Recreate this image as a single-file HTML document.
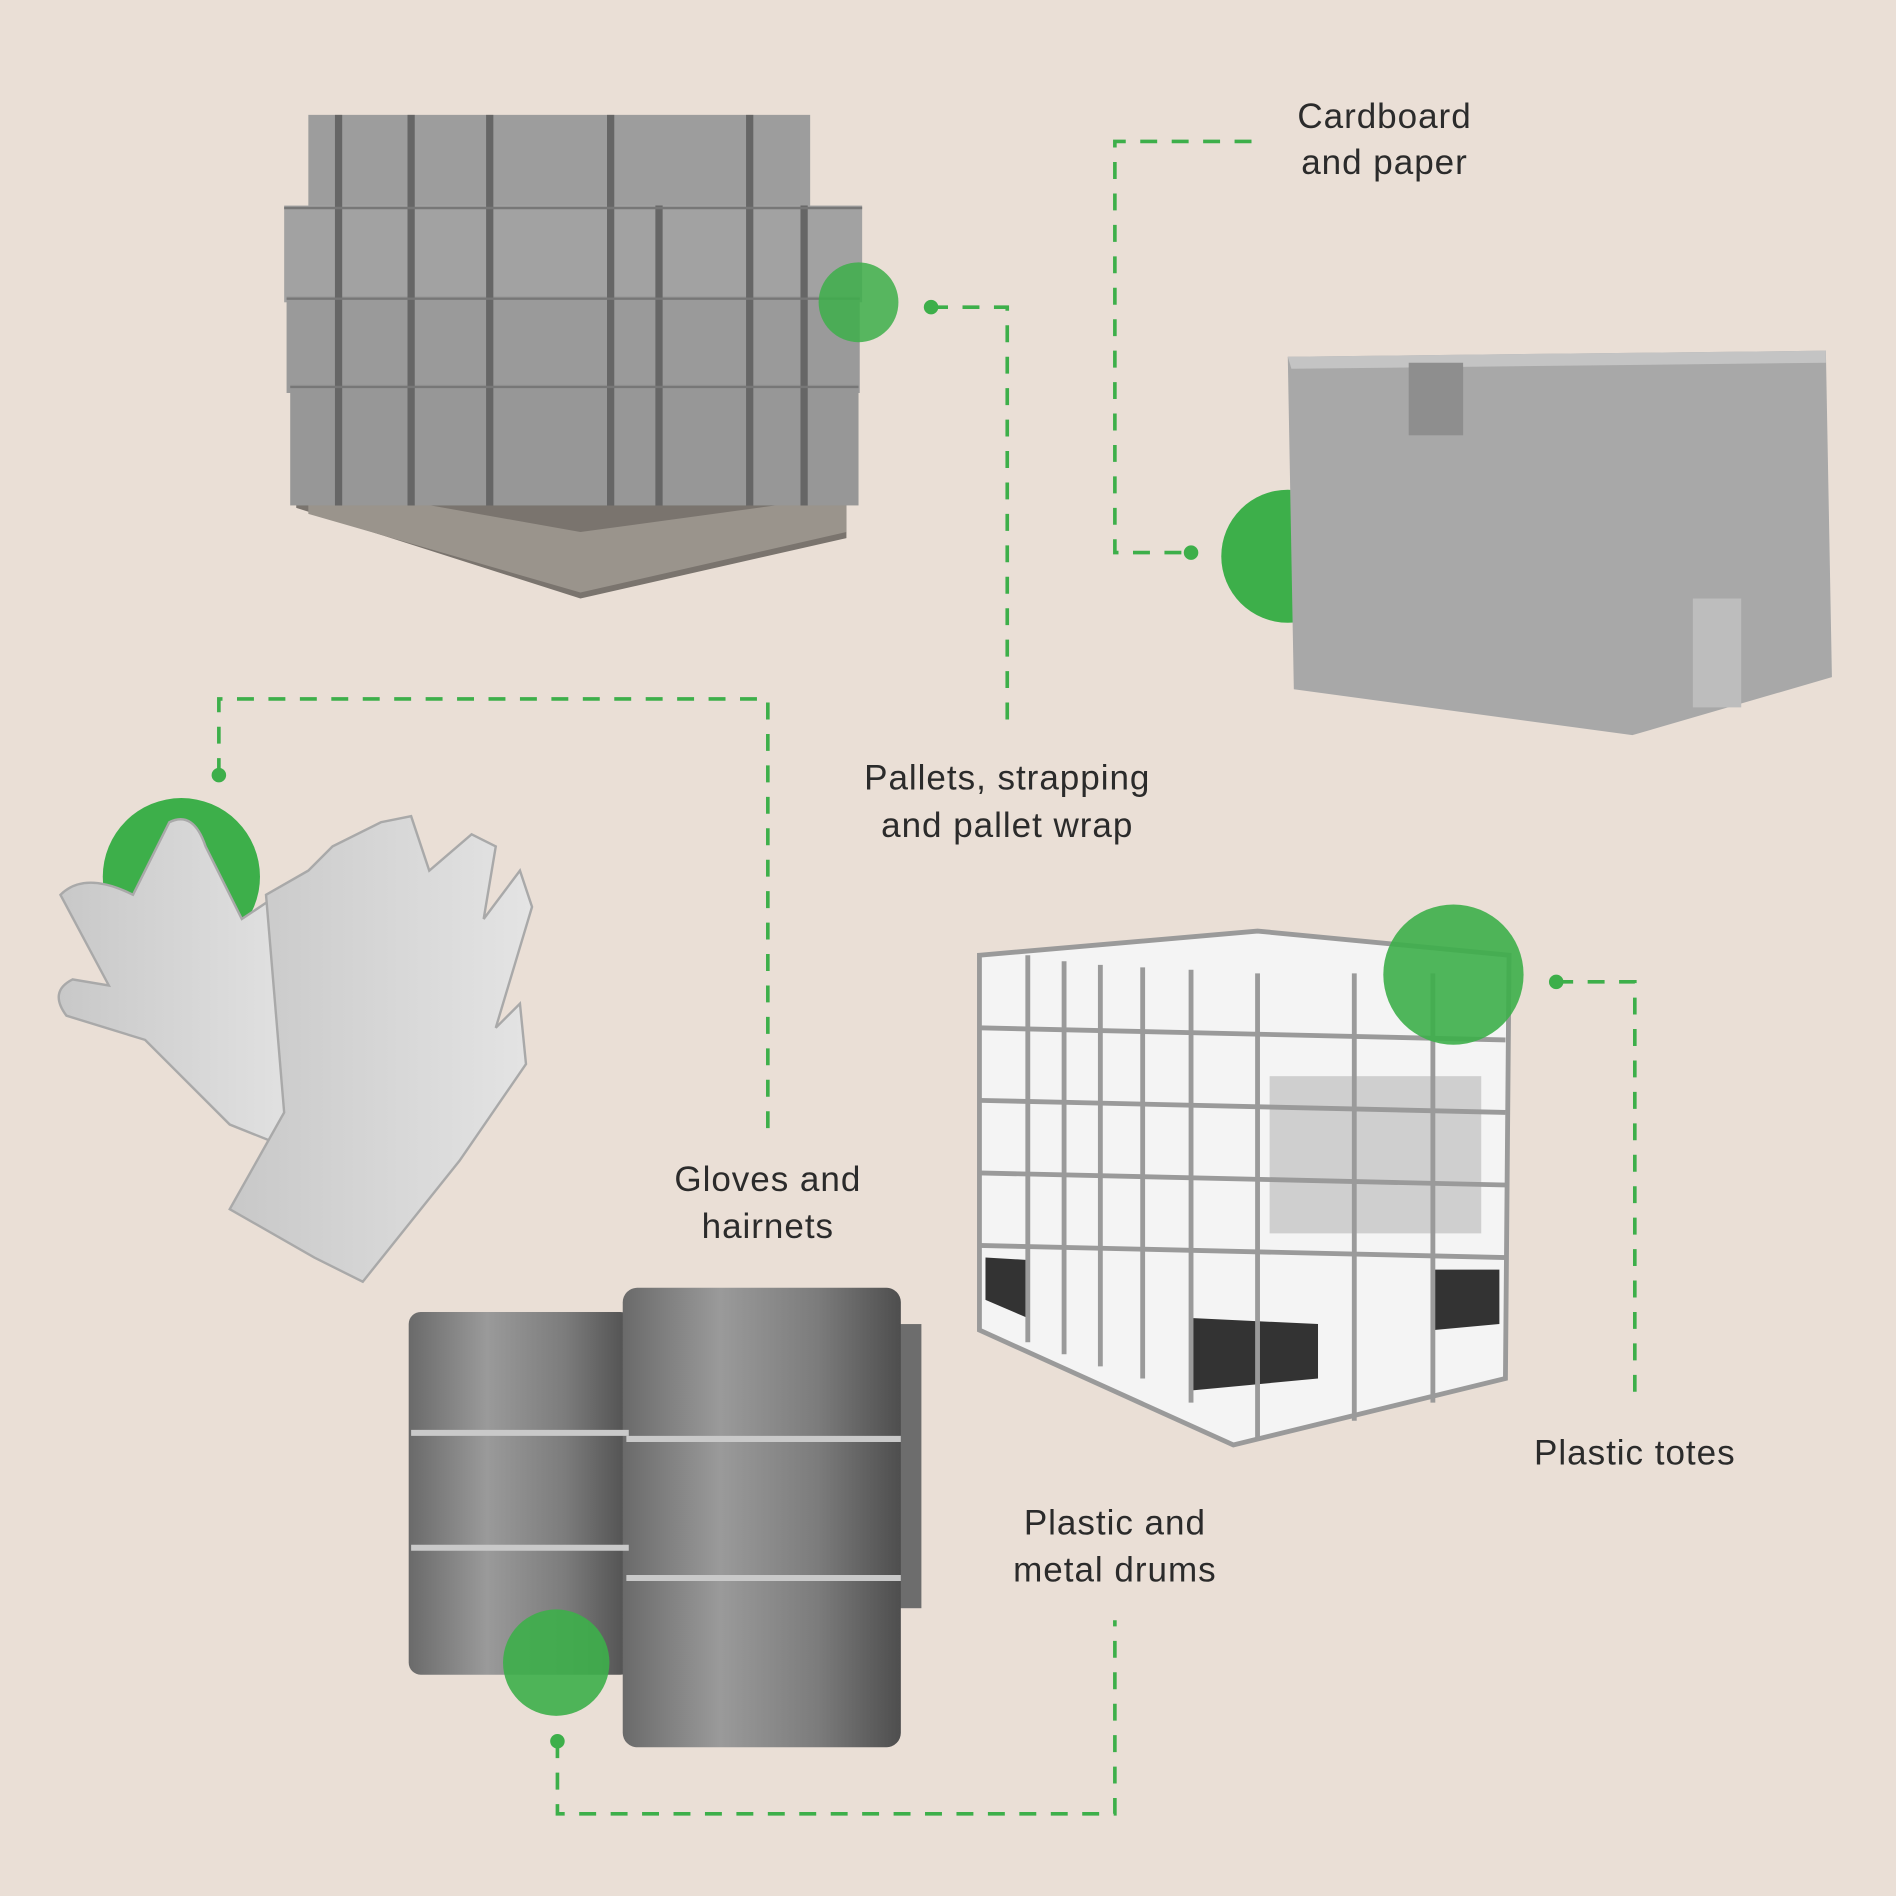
<!DOCTYPE html>
<html><head><meta charset="utf-8"><style>
html,body{margin:0;padding:0;background:#eadfd6;}
svg{display:block;}
text{font-family:"Liberation Sans",sans-serif;font-size:29px;fill:#2b2b2b;text-anchor:middle;letter-spacing:0.8px;}
</style></head><body>
<svg width="1896" height="1896" viewBox="0 0 1568 1568" xmlns="http://www.w3.org/2000/svg">
<rect width="1568" height="1568" fill="#eadfd6"/>
<defs>
<linearGradient id="drum" x1="0" x2="1"><stop offset="0" stop-color="#6a6a6a"/><stop offset="0.35" stop-color="#9a9a9a"/><stop offset="0.7" stop-color="#7c7c7c"/><stop offset="1" stop-color="#4e4e4e"/></linearGradient>
<linearGradient id="glove" x1="0" x2="1"><stop offset="0" stop-color="#c8c8c8"/><stop offset="1" stop-color="#e4e4e4"/></linearGradient>
</defs>
<g fill="none" stroke="#3daf4a" stroke-width="3" stroke-dasharray="14 12">
<path d="M770 254 H833 V595"/>
<path d="M1035 117 H922 V457 H985"/>
<path d="M181 641 V578 H635 V935"/>
<path d="M461 1440 V1500 H922 V1340"/>
<path d="M1287 812 H1352 V1155"/>
</g>
<g fill="#3daf4a">
<circle cx="770" cy="254" r="6"/><circle cx="985" cy="457" r="6"/><circle cx="181" cy="641" r="6"/><circle cx="461" cy="1440" r="6"/><circle cx="1287" cy="812" r="6"/>
<circle cx="1065" cy="460" r="55"/><circle cx="150" cy="725" r="65"/>
</g>
<!-- pallet -->
<g>
<polygon points="245,380 700,395 700,445 480,495 245,420" fill="#7a746e"/>
<polygon points="255,400 480,440 700,410 700,440 480,490 255,425" fill="#9a948c"/>
<rect x="255" y="95" width="415" height="80" fill="#9d9d9d"/>
<rect x="235" y="170" width="478" height="80" fill="#a2a2a2"/>
<rect x="237" y="245" width="474" height="80" fill="#9a9a9a"/>
<rect x="240" y="318" width="470" height="100" fill="#979797"/>
<g stroke="#666" stroke-width="6">
<line x1="280" y1="95" x2="280" y2="418"/><line x1="340" y1="95" x2="340" y2="418"/><line x1="405" y1="95" x2="405" y2="418"/><line x1="505" y1="95" x2="505" y2="418"/><line x1="545" y1="170" x2="545" y2="418"/><line x1="620" y1="95" x2="620" y2="418"/><line x1="665" y1="170" x2="665" y2="418"/>
</g>
<g stroke="#777" stroke-width="2"><line x1="235" y1="172" x2="713" y2="172"/><line x1="237" y1="247" x2="711" y2="247"/><line x1="240" y1="320" x2="710" y2="320"/></g>
</g>
<circle cx="710" cy="250" r="33" fill="#3daf4a" opacity="0.85"/>
<!-- box -->
<polygon points="1065,295 1510,290 1515,560 1350,608 1070,570" fill="#a8a8a8"/>
<polygon points="1065,295 1510,290 1510,300 1068,305" fill="#c4c4c4"/>
<rect x="1165" y="300" width="45" height="60" fill="#8e8e8e"/>
<rect x="1400" y="495" width="40" height="90" fill="#bdbdbd"/>
<!-- gloves -->
<g fill="url(#glove)" stroke="#a9a9a9" stroke-width="2">
<path d="M50 740 Q70 720 110 740 L140 680 Q160 670 170 700 L200 760 L230 740 L260 780 L240 950 L190 930 L120 860 L55 840 Q40 820 60 810 L90 815 Z"/>
<path d="M220 740 L255 720 L275 700 L315 680 L340 675 L355 720 L390 690 L410 700 L400 760 L430 720 L440 750 L410 850 L430 830 L435 880 L380 960 L300 1060 L260 1040 L190 1000 L235 920 Z"/>
</g>
<!-- drums -->
<rect x="338" y="1085" width="185" height="300" rx="10" fill="url(#drum)"/>
<rect x="730" y="1095" width="32" height="235" fill="#6d6d6d"/>
<rect x="515" y="1065" width="230" height="380" rx="12" fill="url(#drum)"/>
<g stroke="#c9c9c9" stroke-width="5">
<line x1="340" y1="1185" x2="520" y2="1185"/><line x1="340" y1="1280" x2="520" y2="1280"/>
<line x1="518" y1="1190" x2="745" y2="1190"/><line x1="518" y1="1305" x2="745" y2="1305"/>
</g>
<circle cx="460" cy="1375" r="44" fill="#3daf4a" opacity="0.9"/>
<!-- tote -->
<polygon points="810,790 1040,770 1248,790 1245,1140 1020,1195 810,1100" fill="#f4f4f4"/>
<rect x="1050" y="890" width="175" height="130" fill="#cfcfcf"/>
<polygon points="815,1040 850,1042 850,1090 815,1075" fill="#333"/>
<polygon points="985,1090 1090,1095 1090,1140 985,1150" fill="#333"/>
<polygon points="1185,1050 1240,1050 1240,1095 1185,1100" fill="#333"/>
<g stroke="#9a9a9a" stroke-width="4" fill="none">
<polygon points="810,790 1040,770 1248,790 1245,1140 1020,1195 810,1100"/>
<line x1="810" y1="850" x2="1245" y2="860"/><line x1="810" y1="910" x2="1245" y2="920"/><line x1="810" y1="970" x2="1245" y2="980"/><line x1="810" y1="1030" x2="1245" y2="1040"/>
<line x1="850" y1="790" x2="850" y2="1110"/><line x1="880" y1="795" x2="880" y2="1120"/><line x1="910" y1="798" x2="910" y2="1130"/><line x1="945" y1="800" x2="945" y2="1140"/><line x1="985" y1="802" x2="985" y2="1160"/><line x1="1040" y1="805" x2="1040" y2="1190"/><line x1="1120" y1="805" x2="1120" y2="1175"/><line x1="1185" y1="805" x2="1185" y2="1160"/>
</g>
<circle cx="1202" cy="806" r="58" fill="#3daf4a" opacity="0.9"/>
<!-- labels -->
<text x="1145" y="106">Cardboard</text><text x="1145" y="144">and paper</text>
<text x="833" y="653">Pallets, strapping</text><text x="833" y="692">and pallet wrap</text>
<text x="635" y="985">Gloves and</text><text x="635" y="1024">hairnets</text>
<text x="922" y="1269">Plastic and</text><text x="922" y="1308">metal drums</text>
<text x="1352" y="1211">Plastic totes</text>
</svg>
</body></html>
